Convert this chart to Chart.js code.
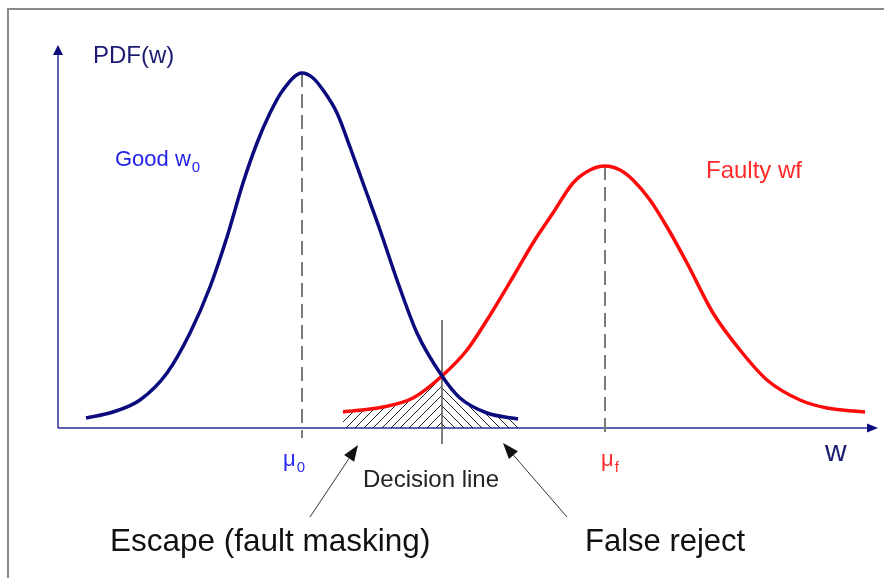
<!DOCTYPE html>
<html lang="en">
<head>
<meta charset="UTF-8">
<title>PDF(w) - good and faulty</title>
<script src="https://cdn.jsdelivr.net/npm/chart.js"></script>
<style>
    html, body { margin: 0; padding: 0; background: #fff; }
    #wrap { position: relative; width: 884px; height: 578px; overflow: hidden; }
    #frame { position: absolute; left: 7px; top: 8px; width: 900px; height: 600px;
             border-left: 2px solid #8a8a8a; border-top: 2px solid #8a8a8a; pointer-events: none; }
</style>
</head>
<body>
<div id="wrap">
    <canvas id="pdfChart"></canvas>
    <div id="frame"></div>
</div>
<script>
// curve samples (w, PDF)
var goodX = [2.8, 5.5, 8.2, 10.9, 13.2, 15.2, 16.9, 18.5, 19.9, 21.2, 22.5, 24.4, 25.5, 26.5, 27.9, 29.2, 30.5, 32.2, 33.9, 35.9, 38.4, 40.2, 42.9, 46.0];
var goodY = [1.0, 1.6, 2.8, 5.5, 9.5, 14.1, 19.1, 24.5, 28.5, 31.5, 33.8, 35.5, 35.0, 33.8, 31.5, 28.1, 24.5, 19.8, 14.8, 9.5, 5.2, 3.0, 1.5, 0.9];
var faultyX = [28.5, 32.5, 35.5, 38.4, 40.9, 42.9, 45.5, 47.5, 49.5, 51.5, 53.2, 54.7, 56.2, 57.5, 59.2, 60.9, 62.9, 65.5, 68.2, 70.9, 74.2, 76.9, 80.7];
var faultyY = [1.6, 2.1, 3.0, 5.2, 7.8, 10.8, 15.1, 18.5, 21.5, 24.5, 25.8, 26.2, 25.8, 24.8, 22.8, 20.1, 16.5, 11.5, 7.8, 4.8, 2.8, 2.0, 1.6];

var muGood = 24.4;
var muFaulty = 54.7;
var decisionX = 38.4;

var navy = '#0b0b7e';

function points(xs, ys) {
    return xs.map(function (x, i) { return { x: x, y: ys[i] }; });
}

function hatch(dir) {
    var s = 9;
    var c = document.createElement('canvas');
    c.width = s; c.height = s;
    var g = c.getContext('2d');
    g.strokeStyle = '#222';
    g.lineWidth = 1;
    g.beginPath();
    if (dir > 0) {
        g.moveTo(0, s); g.lineTo(s, 0);
        g.moveTo(-1, 1); g.lineTo(1, -1);
        g.moveTo(s - 1, s + 1); g.lineTo(s + 1, s - 1);
    } else {
        g.moveTo(0, 0); g.lineTo(s, s);
        g.moveTo(-1, s - 1); g.lineTo(1, s + 1);
        g.moveTo(s - 1, -1); g.lineTo(s + 1, 1);
    }
    g.stroke();
    return g.createPattern(c, 'repeat');
}

var goodPts = points(goodX, goodY);
var faultyPts = points(faultyX, faultyY);
var escapePts = faultyPts.filter(function (p) { return p.x <= decisionX; });
var rejectPts = goodPts.filter(function (p) { return p.x >= decisionX; });

var sketch = {
    id: 'sketch',
    beforeDatasetsDraw: function (chart) {
        var ctx = chart.ctx, sx = chart.scales.x, sy = chart.scales.y;
        var x0 = sx.getPixelForValue(0), y0 = sy.getPixelForValue(0);
        var yTop = sy.getPixelForValue(38.3), xEnd = sx.getPixelForValue(82);
        ctx.save();
        ctx.strokeStyle = '#2b2b9a';
        ctx.fillStyle = navy;
        ctx.lineWidth = 1.5;
        ctx.beginPath();
        ctx.moveTo(x0, y0); ctx.lineTo(x0, yTop + 8);
        ctx.moveTo(x0, y0); ctx.lineTo(xEnd - 9, y0);
        ctx.stroke();
        ctx.beginPath();
        ctx.moveTo(x0, yTop); ctx.lineTo(x0 - 5, yTop + 10); ctx.lineTo(x0 + 5, yTop + 10); ctx.closePath();
        ctx.fill();
        ctx.beginPath();
        ctx.moveTo(xEnd, y0); ctx.lineTo(xEnd - 11, y0 - 4.5); ctx.lineTo(xEnd - 11, y0 + 4.5); ctx.closePath();
        ctx.fill();
        ctx.restore();
    },
    afterDatasetsDraw: function (chart) {
        var ctx = chart.ctx, sx = chart.scales.x, sy = chart.scales.y;
        function px(v) { return sx.getPixelForValue(v); }
        function py(v) { return sy.getPixelForValue(v); }
        function text(str, x, y, size, color) {
            ctx.font = size + 'px "Liberation Sans", Arial, sans-serif';
            ctx.fillStyle = color;
            ctx.fillText(str, px(x), py(y));
            return ctx.measureText(str).width;
        }
        function sub(str, base, x, y, size, color) {
            var w = text(str, x, y, size, color);
            ctx.font = Math.round(size * 0.7) + 'px "Liberation Sans", Arial, sans-serif';
            ctx.fillText(base, px(x) + w + 1, py(y) + size * 0.25);
        }
        function arrow(x1, y1, x2, y2) {
            var a = px(x1), b = py(y1), c = px(x2), d = py(y2);
            var ang = Math.atan2(d - b, c - a), L = 16, W = 6;
            var bx = c - L * Math.cos(ang), by = d - L * Math.sin(ang);
            ctx.strokeStyle = '#333';
            ctx.lineWidth = 1;
            ctx.beginPath(); ctx.moveTo(a, b); ctx.lineTo(bx, by); ctx.stroke();
            ctx.fillStyle = '#111';
            ctx.beginPath();
            ctx.moveTo(c, d);
            ctx.lineTo(bx + W * Math.sin(ang), by - W * Math.cos(ang));
            ctx.lineTo(bx - W * Math.sin(ang), by + W * Math.cos(ang));
            ctx.closePath(); ctx.fill();
        }
        ctx.save();
        ctx.textAlign = 'left';
        ctx.textBaseline = 'alphabetic';
        text('PDF(w)', 3.5, 36.5, 24, '#1b1b72');
        sub('Good w', '0', 5.7, 26.2, 22, '#2424e8');
        text('Faulty wf', 64.8, 25.0, 24, '#ff2a2a');
        sub('\u03bc', '0', 22.5, -3.8, 22, '#2a2aee');
        sub('\u03bc', 'f', 54.3, -3.8, 22, '#ff2a2a');
        text('w', 76.7, -3.3, 30, '#1b1b72');
        text('Decision line', 30.5, -5.9, 24, '#222');
        text('Escape (fault masking)', 5.2, -12.3, 31.5, '#111');
        text('False reject', 52.7, -12.3, 31, '#111');
        arrow(25.2, -8.9, 30.0, -1.7);
        arrow(50.9, -8.9, 44.5, -1.5);
        ctx.restore();
    }
};

new Chart(document.getElementById('pdfChart'), {
    type: 'line',
    data: {
        datasets: [
            { label: 'Good w0', data: goodPts, borderColor: navy, borderWidth: 3.5, cubicInterpolationMode: 'monotone', pointRadius: 0, fill: false },
            { label: 'Faulty wf', data: faultyPts, borderColor: '#ff0a0a', borderWidth: 3.5, cubicInterpolationMode: 'monotone', pointRadius: 0, fill: false },
            { label: 'Decision line', data: [{ x: decisionX, y: 10.8 }, { x: decisionX, y: -1.6 }], borderColor: '#555', borderWidth: 1.5, pointRadius: 0 },
            { label: 'mu0', data: [{ x: muGood, y: Math.max.apply(null, goodY) }, { x: muGood, y: -1.0 }], borderColor: '#7a7a7a', borderWidth: 2, borderDash: [14, 7], pointRadius: 0 },
            { label: 'muf', data: [{ x: muFaulty, y: Math.max.apply(null, faultyY) }, { x: muFaulty, y: -1.0 }], borderColor: '#7a7a7a', borderWidth: 2, borderDash: [14, 7], pointRadius: 0 },
            { label: 'Escape', data: escapePts, borderWidth: 0, cubicInterpolationMode: 'monotone', pointRadius: 0, fill: 'origin', backgroundColor: hatch(1) },
            { label: 'False reject', data: rejectPts, borderWidth: 0, cubicInterpolationMode: 'monotone', pointRadius: 0, fill: 'origin', backgroundColor: hatch(-1) }
        ]
    },
    options: {
        responsive: true,
        maintainAspectRatio: false,
        animation: false,
        layout: { padding: 0 },
        scales: {
            x: { type: 'linear', display: false, min: -5.8, max: 82.6 },
            y: { display: false, min: -15, max: 42.8 }
        },
        plugins: { legend: { display: false }, tooltip: { enabled: false } }
    },
    plugins: [sketch]
});
</script>
</body>
</html>
